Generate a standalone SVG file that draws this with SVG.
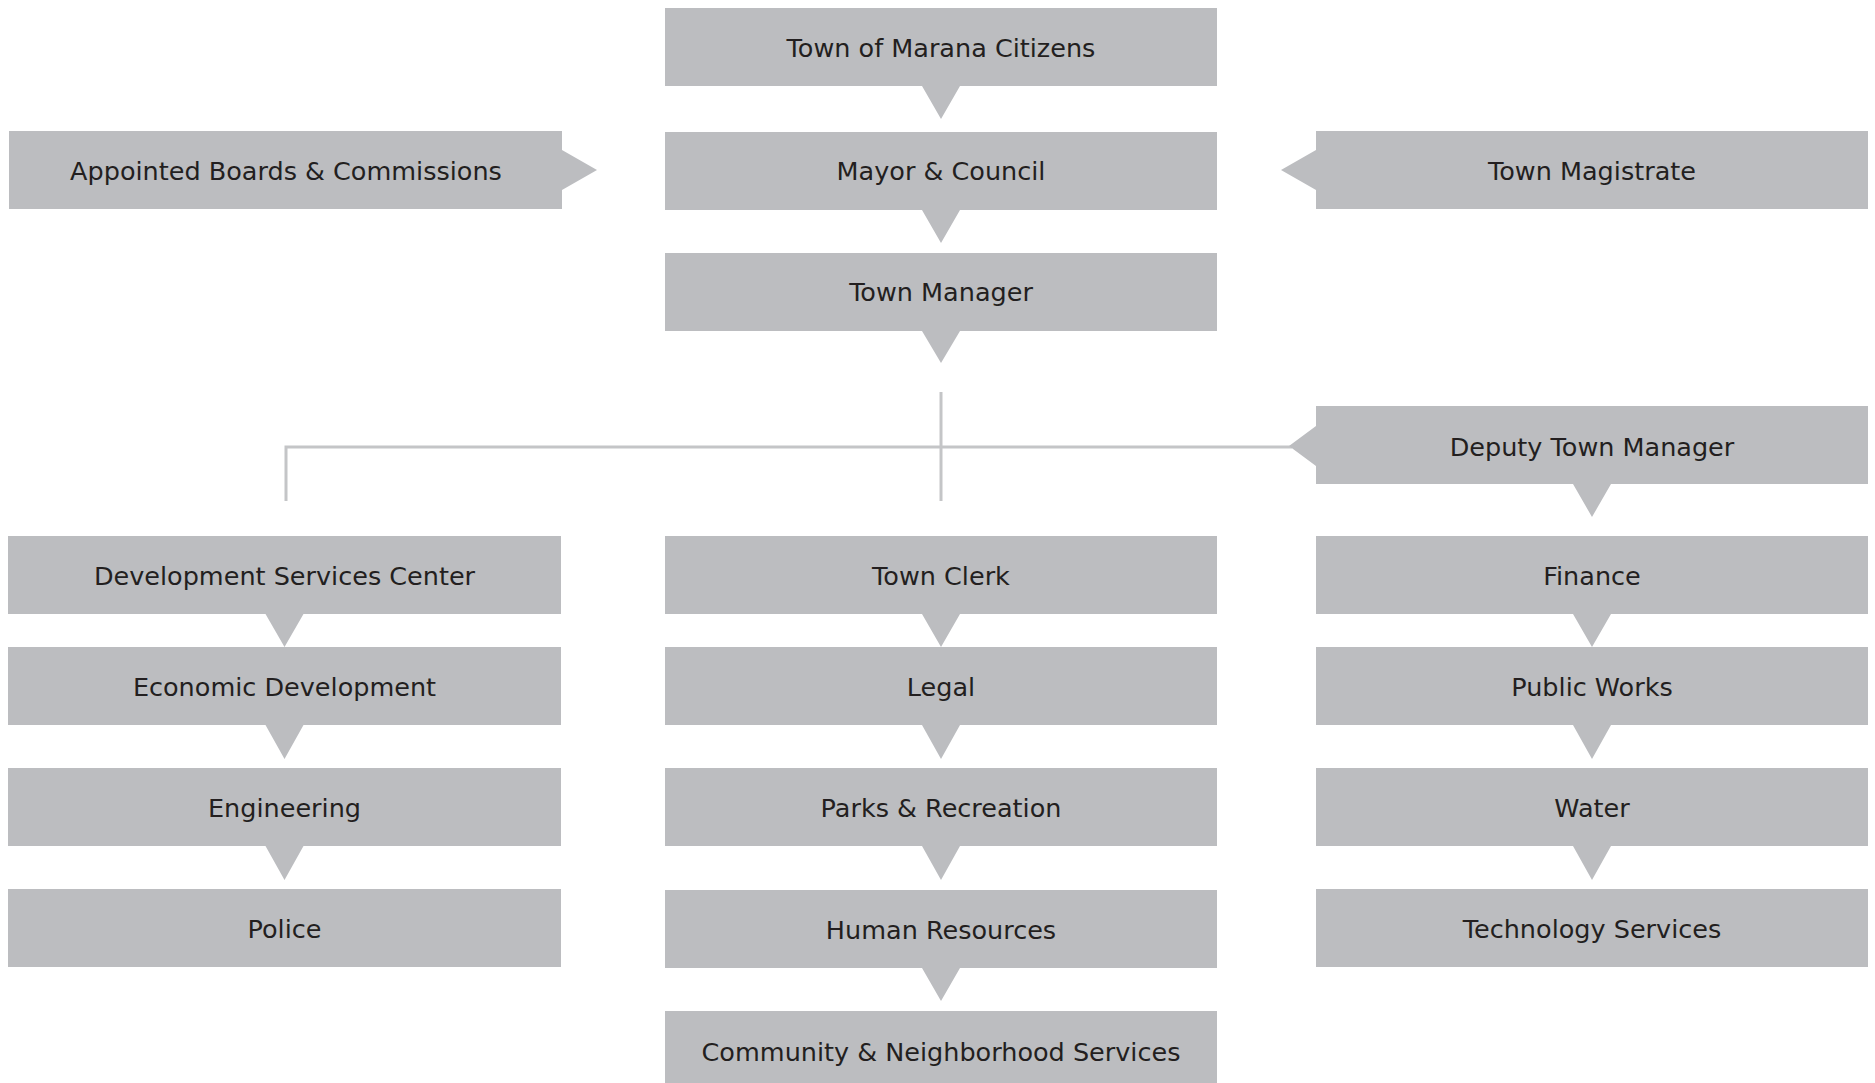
<svg xmlns="http://www.w3.org/2000/svg" width="1875" height="1083" viewBox="0 0 1875 1083">
<style>
  .box { fill: #bcbdc0; }
  .lbl { font-family: "DejaVu Sans", "Liberation Sans", sans-serif; font-size: 25.5px; fill: #231f20; text-anchor: middle; }
  .conn { stroke: #c4c5c7; stroke-width: 3; fill: none; }
</style>
<rect width="1875" height="1083" fill="#ffffff"/>
<g id="connectors">
  <path class="conn" d="M286 501 V447 H1292"/>
  <path class="conn" d="M941 392 V501"/>
</g>
<g id="citizens">
  <path class="box" d="M665 8 H1217 V86 H960 L941 119 L922 86 H665 Z"/>
  <text class="lbl" x="941" y="57">Town of Marana Citizens</text>
</g>
<g id="mayor-council">
  <path class="box" d="M665 132 H1217 V210 H960 L941 243 L922 210 H665 Z"/>
  <text class="lbl" x="941" y="180">Mayor &amp; Council</text>
</g>
<g id="town-manager">
  <path class="box" d="M665 253 H1217 V331 H960 L941 363 L922 331 H665 Z"/>
  <text class="lbl" x="941" y="301">Town Manager</text>
</g>
<g id="appointed-boards">
  <path class="box" d="M9 131 H562 V150 L597 170 L562 190 V209 H9 Z"/>
  <text class="lbl" x="286" y="180">Appointed Boards &amp; Commissions</text>
</g>
<g id="town-magistrate">
  <path class="box" d="M1316 131 H1868 V209 H1316 V190 L1281 170 L1316 150 Z"/>
  <text class="lbl" x="1592" y="180">Town Magistrate</text>
</g>
<g id="deputy-town-manager">
  <path class="box" d="M1316 406 H1868 V484 H1611 L1592 517 L1573 484 H1316 V466 L1289 446 L1316 426 Z"/>
  <text class="lbl" x="1592" y="456">Deputy Town Manager</text>
</g>
<g id="development-services">
  <path class="box" d="M8 536 H561 V614 H303.5 L284.5 647 L265.5 614 H8 Z"/>
  <text class="lbl" x="284.5" y="585">Development Services Center</text>
</g>
<g id="economic-development">
  <path class="box" d="M8 647 H561 V725 H303.5 L284.5 759 L265.5 725 H8 Z"/>
  <text class="lbl" x="284.5" y="696">Economic Development</text>
</g>
<g id="engineering">
  <path class="box" d="M8 768 H561 V846 H303.5 L284.5 880 L265.5 846 H8 Z"/>
  <text class="lbl" x="284.5" y="817">Engineering</text>
</g>
<g id="police">
  <rect class="box" x="8" y="889" width="553" height="78"/>
  <text class="lbl" x="284.5" y="938">Police</text>
</g>
<g id="town-clerk">
  <path class="box" d="M665 536 H1217 V614 H960 L941 647 L922 614 H665 Z"/>
  <text class="lbl" x="941" y="585">Town Clerk</text>
</g>
<g id="legal">
  <path class="box" d="M665 647 H1217 V725 H960 L941 759 L922 725 H665 Z"/>
  <text class="lbl" x="941" y="696">Legal</text>
</g>
<g id="parks-recreation">
  <path class="box" d="M665 768 H1217 V846 H960 L941 880 L922 846 H665 Z"/>
  <text class="lbl" x="941" y="817">Parks &amp; Recreation</text>
</g>
<g id="human-resources">
  <path class="box" d="M665 890 H1217 V968 H960 L941 1001 L922 968 H665 Z"/>
  <text class="lbl" x="941" y="939">Human Resources</text>
</g>
<g id="community-neighborhood">
  <rect class="box" x="665" y="1011" width="552" height="80"/>
  <text class="lbl" x="941" y="1061">Community &amp; Neighborhood Services</text>
</g>
<g id="finance">
  <path class="box" d="M1316 536 H1868 V614 H1611 L1592 647 L1573 614 H1316 Z"/>
  <text class="lbl" x="1592" y="585">Finance</text>
</g>
<g id="public-works">
  <path class="box" d="M1316 647 H1868 V725 H1611 L1592 759 L1573 725 H1316 Z"/>
  <text class="lbl" x="1592" y="696">Public Works</text>
</g>
<g id="water">
  <path class="box" d="M1316 768 H1868 V846 H1611 L1592 880 L1573 846 H1316 Z"/>
  <text class="lbl" x="1592" y="817">Water</text>
</g>
<g id="technology-services">
  <rect class="box" x="1316" y="889" width="552" height="78"/>
  <text class="lbl" x="1592" y="938">Technology Services</text>
</g>
</svg>
